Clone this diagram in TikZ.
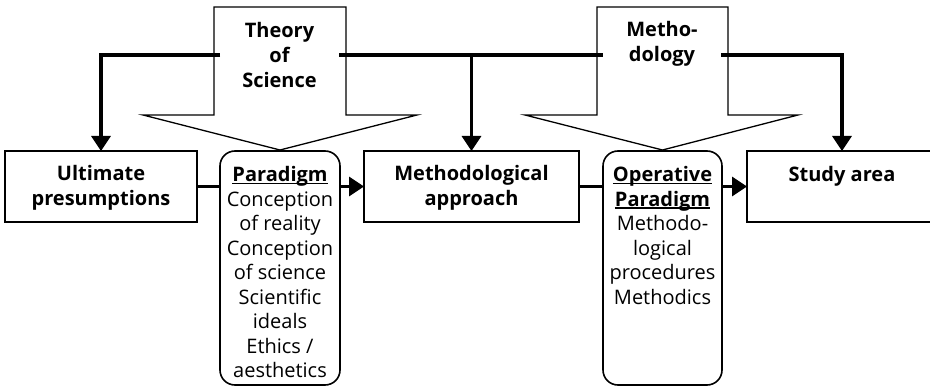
\documentclass[tikz,border=0pt]{standalone}
\usepackage{fontspec}
\setmainfont{Open Sans}
\usetikzlibrary{arrows.meta}
\newcommand\myul[1]{\leavevmode\setbox0\hbox{#1}\rlap{\rule[-2.4pt]{\wd0}{1.4pt}}\box0}
% #1 width, #2 height, #3 baselineskip, #4 top skip, #5 text
\newcommand\boxtxt[5]{\parbox[t][#2][t]{#1}{\fontsize{20}{#3}\selectfont\centering\vspace*{#4}\strut#5\par}}
\begin{document}
\begin{tikzpicture}[x=1pt,y=-1pt,
  box/.style={draw,line width=1.6pt,inner sep=0pt,outer sep=0pt},
  rbox/.style={box,rounded corners=15pt},
  head/.style={inner sep=0pt,outer sep=0pt},
  conn/.style={line width=3.2pt},
  connarrow/.style={conn,-{Triangle[width=19pt,length=15pt]}},
  bigarrow/.style={line width=1.3pt,line join=miter}]
\useasboundingbox (0,0) rectangle (930,387);

% big arrows
\draw[bigarrow] (214,7) -- (214,115) -- (143,115) -- (280,150) -- (417,115) -- (346,115) -- (346,7) -- cycle;
\draw[bigarrow] (597,7) -- (597,115) -- (525,115) -- (662.5,150) -- (798,115) -- (728,115) -- (728,7) -- cycle;

% headings
\node[head] (ts) at (279.5,55) {\boxtxt{119pt}{80pt}{25}{4.8pt}{\bfseries Theory\\of\\Science}};
\node[head] (ms) at (662,55) {\boxtxt{118pt}{80pt}{25}{4.2pt}{\bfseries Metho-\\dology}};

% boxes
\node[box] (ult) at (101,186.5) {\boxtxt{192pt}{71pt}{25}{12.5pt}{\bfseries Ultimate\\presumptions}};
\node[rbox] (para) at (280,268) {\boxtxt{120pt}{234pt}{24.5}{13.5pt}{\bfseries\myul{Paradigm}\\\mdseries Conception\\of reality\\Conception\\of science\\Scientific\\ideals\\Ethics /\\aesthetics}};
\node[box] (meth) at (471.5,186.5) {\boxtxt{215pt}{71pt}{25}{12.5pt}{\bfseries Methodological\\approach}};
\node[rbox] (op) at (662.5,268) {\boxtxt{119pt}{234pt}{24.5}{13.5pt}{\bfseries\myul{Operative}\\\myul{Paradigm}\\\mdseries Methodo-\\logical\\procedures\\Methodics}};
\node[box] (study) at (842,186.5) {\boxtxt{190pt}{71pt}{25}{13pt}{\bfseries Study area}};

% connectors
\coordinate (j) at (meth.north |- ts.east);
\draw[connarrow] (ts.west) -| (ult.north);
\draw[conn] (ts.east) -- (ms.west);
\draw[connarrow] (j) -- (meth.north);
\draw[connarrow] (ms.east) -| (study.north);
\draw[conn] (ult.east) -- (ult.east -| para.west);
\draw[connarrow] (para.east |- meth.west) -- (meth.west);
\draw[conn] (meth.east) -- (meth.east -| op.west);
\draw[connarrow] (op.east |- study.west) -- (study.west);
\end{tikzpicture}
\end{document}
